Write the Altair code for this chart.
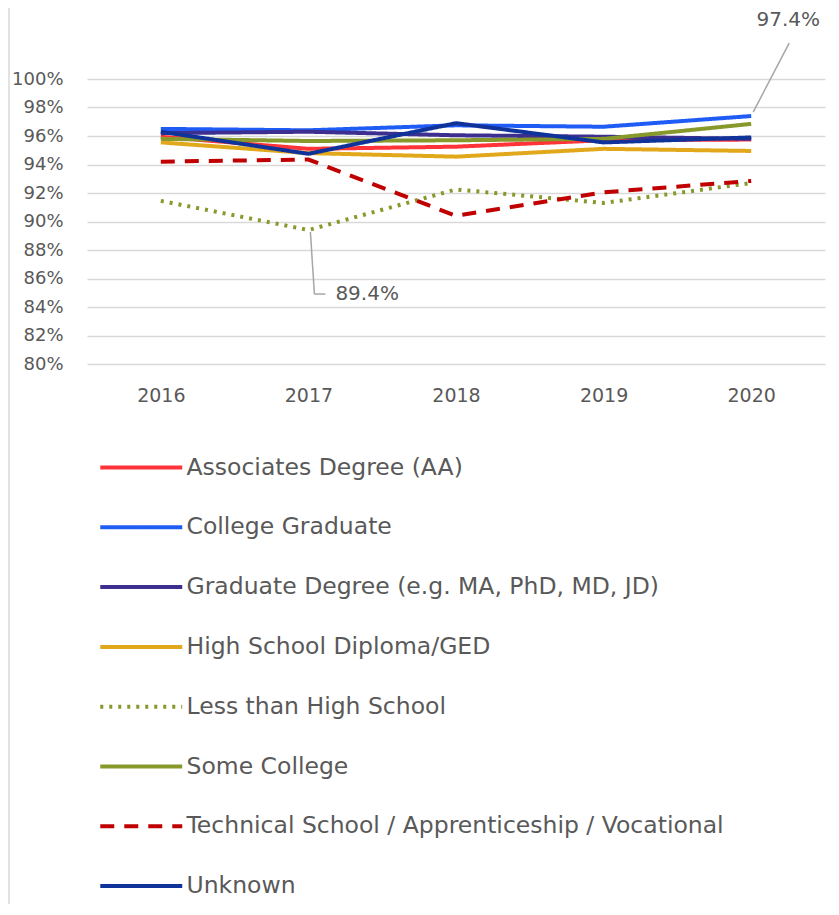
import altair as alt
import pandas as pd

FONT = "DejaVu Sans"
TXT = "#595959"
GRID = "#d9d9d9"

years = ["2016", "2017", "2018", "2019", "2020"]

series_names = [
    "Associates Degree (AA)",
    "College Graduate",
    "Graduate Degree (e.g. MA, PhD, MD, JD)",
    "High School Diploma/GED",
    "Less than High School",
    "Some College",
    "Technical School / Apprenticeship / Vocational",
    "Unknown",
]

associates = [95.95, 95.1, 95.25, 95.7, 95.75]
college_grad = [96.5, 96.4, 96.75, 96.65, 97.4]
graduate_degree = [96.2, 96.3, 96.05, 95.95, 95.8]
high_school = [95.55, 94.8, 94.55, 95.1, 94.95]
less_than_hs = [91.45, 89.4, 92.25, 91.3, 92.7]
some_college = [95.8, 95.65, 95.7, 95.8, 96.85]
technical = [94.2, 94.35, 90.4, 92.05, 92.85]
unknown = [96.3, 94.75, 96.9, 95.55, 95.9]

series_values = [associates, college_grad, graduate_degree, high_school,
                 less_than_hs, some_college, technical, unknown]

colors = ["#ff3338", "#1f5cf5", "#3c2f8f", "#e2a81c",
          "#86992a", "#86992a", "#c00000", "#10339a"]
dashes = [[1, 0], [1, 0], [1, 0], [1, 0], [3, 6], [1, 0], [14, 10], [1, 0]]

y_ticks = [80, 82, 84, 86, 88, 90, 92, 94, 96, 98, 100]

rows = []
for name, vals in zip(series_names, series_values):
    for yr, v in zip(years, vals):
        rows.append({"series": name, "year": yr, "value": v})
df = pd.DataFrame(rows)

ann_high = pd.DataFrame({"year": ["2020"], "value": [97.4], "label": ["97.4%"]})
ann_low = pd.DataFrame({"year": ["2017"], "value": [89.4], "label": ["89.4%"]})

legend = alt.Legend(
    title=None, orient="none", legendX=72.5, legendY=376, direction="vertical",
    symbolType="M-7,0H1", symbolSize=420, symbolStrokeWidth=4,
    labelFont=FONT, labelFontSize=23.5, labelColor=TXT, labelOffset=2,
    rowPadding=35.8, labelLimit=0,
)

x_scale = alt.Scale(type="point", domain=years, padding=0.5)
y_scale = alt.Scale(domain=[80, 100], nice=False, zero=False)
x_axis = alt.Axis(title=None, labelAngle=0, domain=False, ticks=False,
                  labelPadding=22, labelFont=FONT, labelFontSize=19,
                  labelColor=TXT, grid=False)
y_axis = alt.Axis(title=None, values=y_ticks, labelOverlap=False, tickCount=11,
                  labelExpr="datum.value + '%'", grid=True,
                  gridColor=GRID, gridWidth=1.3, domain=False, ticks=False,
                  labelPadding=24, labelFont=FONT, labelFontSize=18,
                  labelColor=TXT)


def xenc():
    return alt.X("year:O", sort=years, scale=x_scale, axis=x_axis)


def yenc():
    return alt.Y("value:Q", scale=y_scale, axis=y_axis)


lines = alt.Chart(df).mark_line(strokeWidth=4).encode(
    x=xenc(),
    y=yenc(),
    color=alt.Color("series:N", scale=alt.Scale(domain=series_names, range=colors),
                    legend=legend),
    strokeDash=alt.StrokeDash("series:N",
                              scale=alt.Scale(domain=series_names, range=dashes),
                              legend=legend),
    order=alt.Order("series:N"),
)

lead_col = "#a6a6a6"
high_rule = alt.Chart(ann_high).mark_rule(
    color=lead_col, strokeWidth=1.5, xOffset=2, yOffset=-4, x2Offset=38, y2Offset=-73
).encode(x=xenc(), y=yenc(), x2="year", y2="value")
high_text = alt.Chart(ann_high).mark_text(
    font=FONT, fontSize=20, color=TXT, align="center", baseline="middle", dx=37, dy=-96
).encode(x=xenc(), y=yenc(), text="label:N")

low_rule1 = alt.Chart(ann_low).mark_rule(
    color=lead_col, strokeWidth=1.5, xOffset=2, yOffset=2, x2Offset=6, y2Offset=64
).encode(x=xenc(), y=yenc(), x2="year", y2="value")
low_rule2 = alt.Chart(ann_low).mark_rule(
    color=lead_col, strokeWidth=1.5, xOffset=6, x2Offset=17, yOffset=64
).encode(x=xenc(), y=yenc(), x2="year")
low_text = alt.Chart(ann_low).mark_text(
    font=FONT, fontSize=20, color=TXT, align="left", baseline="middle", dx=27, dy=64
).encode(x=xenc(), y=yenc(), text="label:N")

border = alt.Chart(ann_low).mark_rule(color=GRID, strokeWidth=1.5).encode(
    x=alt.value(-78), y=alt.value(-71), y2=alt.value(825)
)

chart = alt.layer(
    border, lines, high_rule, high_text, low_rule1, low_rule2, low_text
).properties(
    width=738, height=285,
    autosize=alt.AutoSizeParams(type="none"),
    padding={"left": 79, "top": 71, "right": 6, "bottom": 540},
).configure_view(stroke=None)

chart.save("out.html", embed_options={"renderer": "svg", "actions": False})
